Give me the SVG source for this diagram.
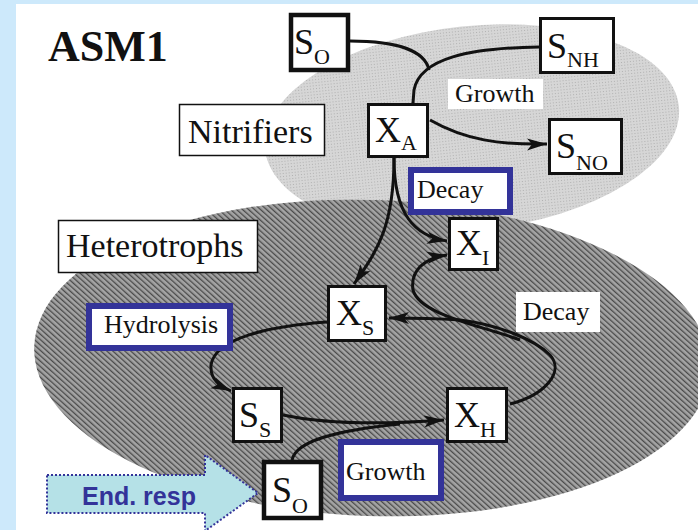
<svg xmlns="http://www.w3.org/2000/svg" width="698" height="530" viewBox="0 0 698 530">
<style>
.node rect{fill:#fff;stroke:#111;stroke-width:3}
.node rect.thick{stroke-width:4.5}
.lbl{fill:#111}
.big{font-size:36px}
.sub{font-size:22px}
.txt{font-size:26px}
.blue{fill:#fff;stroke:#333399;stroke-width:6}
.conn path{fill:none;stroke:#111;stroke-width:3}
</style>
<defs>
<marker id="ah" markerUnits="userSpaceOnUse" markerWidth="22" markerHeight="14" refX="20" refY="7" orient="auto">
<path d="M0,1 L20,7 L0,13 L5,7 z" fill="#111"/>
</marker>
<pattern id="hatch" width="4" height="4" patternUnits="userSpaceOnUse" patternTransform="rotate(-50)">
<rect width="4" height="4" fill="#a4a4a4"/>
<rect width="1.3" height="4" fill="#4a4a4a"/>
</pattern>
<pattern id="dots" width="3" height="3" patternUnits="userSpaceOnUse">
<rect width="3" height="3" fill="#d6d6d6"/>
<rect width="1" height="1" fill="#b0b0b0"/>
</pattern>
</defs>
<rect width="698" height="530" fill="#cde9fb"/>
<rect x="16" y="4" width="682" height="526" fill="#fff"/>
<g id="nitrifier-zone"><ellipse cx="472" cy="128" rx="208" ry="102" transform="rotate(-6 472 128)" fill="url(#dots)"/></g>
<g id="heterotroph-zone"><ellipse cx="372" cy="358" rx="338" ry="158" transform="rotate(2 372 358)" fill="url(#hatch)"/></g>
<text class="lbl" x="48" y="61" font-size="44" font-weight="bold" font-family="'Liberation Serif', 'DejaVu Serif', serif">ASM1</text>
<g class="conn" id="connectors">
<path d="M350,41 C395,41 425,50 429,70"/>
<path d="M539,47 C470,48 420,58 414,90 L413,103"/>
<path d="M430,120 C465,140 500,145 547,144" marker-end="url(#ah)"/>
<path d="M394,158 C394,225 378,250 354,284" marker-end="url(#ah)"/>
<path d="M394,158 C394,215 415,236 447,241" marker-end="url(#ah)"/>
<path d="M510,404 C545,395 565,372 550,355 C535,340 500,325 460,320 C430,318 410,318 389,318" marker-end="url(#ah)"/>
<path d="M520,340 C480,325 420,315 413,290 C410,270 425,258 447,255" marker-end="url(#ah)"/>
<path d="M327,322 C270,326 215,338 211,365 C210,380 220,386 231,391" marker-end="url(#ah)"/>
<path d="M283,415 C330,425 390,424 444,420" marker-end="url(#ah)"/>
<path d="M292,460 C296,440 340,430 400,424"/>
</g>
<g font-family="'Liberation Serif', 'DejaVu Serif', serif">
<g id="label-nitrifiers"><rect x="179.5" y="104.5" width="145" height="51" fill="#fff" stroke="#111" stroke-width="1.5"/><text class="lbl" x="188" y="143" font-size="34">Nitrifiers</text></g>
<g id="label-heterotrophs"><rect x="58.5" y="220.5" width="199" height="52" fill="#fff" stroke="#111" stroke-width="1.5"/><text class="lbl" x="66" y="257" font-size="34">Heterotrophs</text></g>
<g id="label-growth-top"><rect x="448" y="79" width="95" height="30" fill="#fff"/><text class="lbl txt" x="455" y="102">Growth</text></g>
<g id="label-decay-top"><rect class="blue" x="411" y="170" width="99" height="42"/><text class="lbl txt" x="417" y="198">Decay</text></g>
<g id="label-decay-right"><rect x="516" y="292" width="84" height="40" fill="#fff"/><text class="lbl txt" x="523" y="320">Decay</text></g>
<g id="label-hydrolysis"><rect class="blue" x="89" y="306" width="141" height="42"/><text class="lbl txt" x="104" y="333">Hydrolysis</text></g>
<g id="label-growth-bottom"><rect class="blue" x="341" y="442" width="100" height="56"/><text class="lbl txt" x="346" y="480">Growth</text></g>
<g id="node-SO-top" class="node"><rect class="thick" x="291" y="15" width="57" height="55"/><text class="lbl" x="294" y="54"><tspan class="big">S</tspan><tspan class="sub" dy="10">O</tspan></text></g>
<g id="node-SNH" class="node"><rect x="540.5" y="18.5" width="73" height="54"/><text class="lbl" x="547" y="58"><tspan class="big">S</tspan><tspan class="sub" dy="9">NH</tspan></text></g>
<g id="node-XA" class="node"><rect x="368.5" y="104.5" width="59" height="52"/><text class="lbl" x="375" y="142"><tspan class="big">X</tspan><tspan class="sub" dy="8">A</tspan></text></g>
<g id="node-SNO" class="node"><rect x="549.5" y="119.5" width="72" height="54"/><text class="lbl" x="556" y="158"><tspan class="big">S</tspan><tspan class="sub" dy="12">NO</tspan></text></g>
<g id="node-XI" class="node"><rect x="449.5" y="218.5" width="48" height="51"/><text class="lbl" x="456" y="255"><tspan class="big">X</tspan><tspan class="sub" dy="10">I</tspan></text></g>
<g id="node-XS" class="node"><rect x="328.5" y="286.5" width="57" height="54"/><text class="lbl" x="336" y="325"><tspan class="big">X</tspan><tspan class="sub" dy="10">S</tspan></text></g>
<g id="node-SS" class="node"><rect x="233.5" y="388.5" width="48" height="53"/><text class="lbl" x="239" y="427"><tspan class="big">S</tspan><tspan class="sub" dy="10">S</tspan></text></g>
<g id="node-XH" class="node"><rect x="447.5" y="388.5" width="59" height="53"/><text class="lbl" x="454" y="427"><tspan class="big">X</tspan><tspan class="sub" dy="10">H</tspan></text></g>
<g id="node-SO-bottom" class="node"><rect class="thick" x="264" y="462" width="57" height="56"/><text class="lbl" x="272" y="502"><tspan class="big">S</tspan><tspan class="sub" dy="11">O</tspan></text></g>
</g>
<g id="end-resp"><polygon points="47,475 205,475 205,455 258,493 205,531 205,513 47,513" fill="#b5e1e7" stroke="#333399" stroke-width="2" stroke-dasharray="2,2"/><text x="82" y="505" font-family="Liberation Sans, Arial, sans-serif" font-weight="bold" font-size="25" fill="#333399">End. resp</text></g>
</svg>
